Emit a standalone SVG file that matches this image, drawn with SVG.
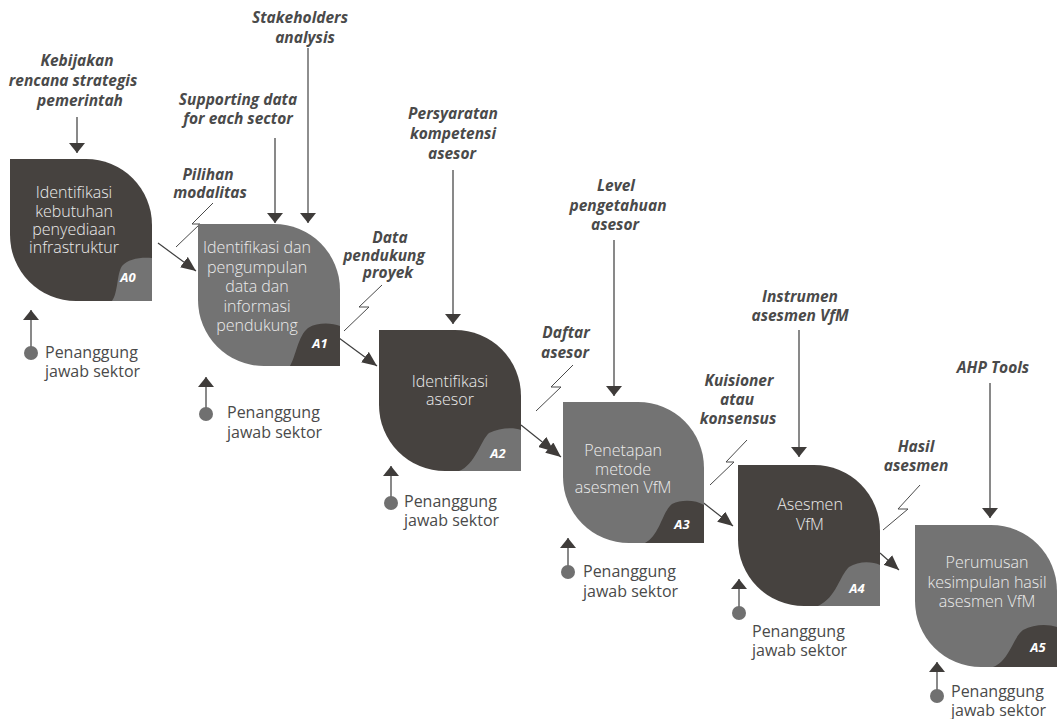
<svg xmlns="http://www.w3.org/2000/svg" width="1057" height="719" viewBox="0 0 1057 719">
<style>
.dark{fill:#46423f}
.gray{fill:#737373}
.nt{font-family:"Open Sans","Liberation Sans",sans-serif;font-weight:300;font-size:16px;fill:#ececec;text-anchor:middle}
.id{font-family:"Open Sans","Liberation Sans",sans-serif;font-weight:700;font-style:italic;font-size:13px;fill:#ffffff;text-anchor:middle}
.lb{font-family:"Open Sans","Liberation Sans",sans-serif;font-weight:700;font-style:italic;font-size:15.5px;fill:#4a4a4a;text-anchor:middle}
.mt{font-family:"Open Sans","Liberation Sans",sans-serif;font-size:16px;fill:#4a4a4a}
.ctl{stroke:#4a4a4a;stroke-width:1.3;fill:none}
.ctl2{stroke:#8e8e8e;stroke-width:2;fill:none}
.conn{stroke:#3f3f3f;stroke-width:1.2;fill:none}
.zig{stroke:#4a4a4a;stroke-width:1;fill:none}
.head{fill:#3f3c3a}
.dot{fill:#707070}
</style>
<defs>
<marker id="ah" markerUnits="userSpaceOnUse" viewBox="0 0 15 13" refX="15" refY="6.5" markerWidth="15" markerHeight="13" orient="auto">
<path d="M0,0 L15,6.5 L0,13 Z" class="head"/>
</marker>
<marker id="ah2" markerUnits="userSpaceOnUse" viewBox="-9 0 24 13" refX="15" refY="6.5" markerWidth="24" markerHeight="13" orient="auto">
<path d="M-9,0 L6,6.5 L-9,13 Z M0,0 L15,6.5 L0,13 Z" class="head"/>
</marker>
<marker id="dn" markerUnits="userSpaceOnUse" viewBox="0 0 10 16" refX="10" refY="8" markerWidth="10" markerHeight="16" orient="auto">
<path d="M0,0 L10,8 L0,16 Z" class="head"/>
</marker>
</defs>

<g id="connectors">
<!-- control arrows -->
<line x1="77" y1="117" x2="77" y2="153" class="ctl" marker-end="url(#dn)"/>
<line x1="275" y1="138" x2="275" y2="223" class="ctl" marker-end="url(#dn)"/>
<line x1="308" y1="48" x2="308" y2="223" class="ctl2" marker-end="url(#dn)"/>
<line x1="453" y1="170" x2="453" y2="324" class="ctl" marker-end="url(#dn)"/>
<line x1="614" y1="240" x2="614" y2="396" class="ctl" marker-end="url(#dn)"/>
<line x1="799" y1="330" x2="799" y2="457" class="ctl" marker-end="url(#dn)"/>
<line x1="990" y1="383" x2="990" y2="518" class="ctl" marker-end="url(#dn)"/>
<!-- flow arrows -->
<line x1="158" y1="243" x2="196" y2="271" class="conn" marker-end="url(#ah)"/>
<line x1="339" y1="338" x2="377" y2="366" class="conn" marker-end="url(#ah)"/>
<line x1="521" y1="425" x2="561" y2="457" class="conn" marker-end="url(#ah2)"/>
<line x1="696" y1="497" x2="733" y2="526" class="conn" marker-end="url(#ah)"/>
<line x1="880" y1="553" x2="899" y2="570" class="conn" marker-end="url(#ah)"/>
<!-- lightning -->
<polyline points="176,247 200,224 192,224 213,203" class="zig"/>
<polyline points="344,331 369,307 359,307 382,285" class="zig"/>
<polyline points="536,411 561,387 551,387 573,365" class="zig"/>
<polyline points="710,485 734,462 726,462 747,440" class="zig"/>
<polyline points="883,530 908,509 898,509 920,485" class="zig"/>
<!-- mechanism arrows -->
<line x1="31" y1="353" x2="31" y2="310" class="ctl" marker-end="url(#dn)"/>
<line x1="206" y1="414" x2="206" y2="377" class="ctl" marker-end="url(#dn)"/>
<line x1="391" y1="503" x2="391" y2="466" class="ctl" marker-end="url(#dn)"/>
<line x1="568" y1="572" x2="568" y2="538" class="ctl" marker-end="url(#dn)"/>
<line x1="739" y1="613" x2="739" y2="579" class="ctl" marker-end="url(#dn)"/>
<line x1="937" y1="696" x2="937" y2="662" class="ctl" marker-end="url(#dn)"/>
</g>

<g id="mechanisms">
<circle cx="31" cy="353" r="7" class="dot"/>
<text class="mt"><tspan x="45" y="358">Penanggung</tspan><tspan x="45" y="377">jawab sektor</tspan></text>
<circle cx="206" cy="414" r="7" class="dot"/>
<text class="mt"><tspan x="227" y="418">Penanggung</tspan><tspan x="227" y="438">jawab sektor</tspan></text>
<circle cx="391" cy="503" r="7" class="dot"/>
<text class="mt"><tspan x="404" y="507">Penanggung</tspan><tspan x="404" y="526">jawab sektor</tspan></text>
<circle cx="568" cy="572" r="7" class="dot"/>
<text class="mt"><tspan x="583" y="577">Penanggung</tspan><tspan x="583" y="597">jawab sektor</tspan></text>
<circle cx="739" cy="613" r="7" class="dot"/>
<text class="mt"><tspan x="752" y="637">Penanggung</tspan><tspan x="752" y="656">jawab sektor</tspan></text>
<circle cx="937" cy="696" r="7" class="dot"/>
<text class="mt"><tspan x="951" y="697">Penanggung</tspan><tspan x="951" y="716">jawab sektor</tspan></text>
</g>

<g id="labels">
<text class="lb"><tspan x="300" y="23">Stakeholders</tspan><tspan x="305" y="43">analysis</tspan></text>
<text class="lb"><tspan x="77" y="66">Kebijakan</tspan><tspan x="73" y="86">rencana strategis</tspan><tspan x="80" y="106">pemerintah</tspan></text>
<text class="lb"><tspan x="238" y="105">Supporting data</tspan><tspan x="238" y="124">for each sector</tspan></text>
<text class="lb"><tspan x="208" y="180">Pilihan</tspan><tspan x="210" y="198">modalitas</tspan></text>
<text class="lb"><tspan x="453" y="119">Persyaratan</tspan><tspan x="453" y="139">kompetensi</tspan><tspan x="452" y="159">asesor</tspan></text>
<text class="lb"><tspan x="390" y="243">Data</tspan><tspan x="384" y="261">pendukung</tspan><tspan x="388" y="278">proyek</tspan></text>
<text class="lb"><tspan x="616" y="191">Level</tspan><tspan x="618" y="211">pengetahuan</tspan><tspan x="615" y="230">asesor</tspan></text>
<text class="lb"><tspan x="566" y="338">Daftar</tspan><tspan x="565" y="358">asesor</tspan></text>
<text class="lb"><tspan x="800" y="302">Instrumen</tspan><tspan x="800" y="321">asesmen VfM</tspan></text>
<text class="lb"><tspan x="739" y="386">Kuisioner</tspan><tspan x="737" y="405">atau</tspan><tspan x="738" y="424">konsensus</tspan></text>
<text class="lb"><tspan x="916" y="452">Hasil</tspan><tspan x="916" y="471">asesmen</tspan></text>
<text class="lb"><tspan x="993" y="373">AHP Tools</tspan></text>
</g>

<g id="A0">
<path class="dark" d="M10,159 H86 A66,66 0 0 1 152,225 V301 H76 A66,66 0 0 1 10,235 Z"/>
<path class="gray" d="M152,258 C140,257 128,259 122,266 C117,273 118,293 112,301 H152 Z"/>
<text class="nt"><tspan x="74" y="198">Identifikasi</tspan><tspan x="74" y="217">kebutuhan</tspan><tspan x="74" y="235">penyediaan</tspan><tspan x="74" y="253">infrastruktur</tspan></text>
<text class="id" x="128" y="282">A0</text>
</g>

<g id="A1">
<path class="gray" d="M198,224 H274 A66,66 0 0 1 340,290 V366 H264 A66,66 0 0 1 198,300 Z"/>
<path class="dark" d="M340,326 C332,323 318,322 308,328 C298,336 296,356 290,366 H340 Z"/>
<text class="nt"><tspan x="257" y="253">Identifikasi dan</tspan><tspan x="257" y="273">pengumpulan</tspan><tspan x="257" y="292">data dan</tspan><tspan x="257" y="312">informasi</tspan><tspan x="257" y="331">pendukung</tspan></text>
<text class="id" x="320" y="348">A1</text>
</g>

<g id="A2">
<path class="dark" d="M379,330 H455 A66,66 0 0 1 521,396 V471 H445 A66,66 0 0 1 379,405 Z"/>
<path class="gray" d="M521,430 C513,427 499,428 489,433 C481,440 475,465 459,471 H521 Z"/>
<text class="nt"><tspan x="450" y="387">Identifikasi</tspan><tspan x="450" y="405">asesor</tspan></text>
<text class="id" x="498" y="458">A2</text>
</g>

<g id="A3">
<path class="gray" d="M563,402 H638 A66,66 0 0 1 704,468 V543 H629 A66,66 0 0 1 563,477 Z"/>
<path class="dark" d="M704,505 C696,500 682,499 672,504 C662,512 660,535 645,543 H704 Z"/>
<text class="nt"><tspan x="623" y="456">Penetapan</tspan><tspan x="623" y="475">metode</tspan><tspan x="623" y="493">asesmen VfM</tspan></text>
<text class="id" x="682" y="529">A3</text>
</g>

<g id="A4">
<path class="dark" d="M738,465 H814 A66,66 0 0 1 880,531 V606 H804 A66,66 0 0 1 738,540 Z"/>
<path class="gray" d="M880,565 C872,561 858,561 849,567 C840,575 836,598 818,606 H880 Z"/>
<text class="nt"><tspan x="810" y="510">Asesmen</tspan><tspan x="810" y="530">VfM</tspan></text>
<text class="id" x="857" y="593">A4</text>
</g>

<g id="A5">
<path class="gray" d="M915,525 H991 A66,66 0 0 1 1057,591 V667 H981 A66,66 0 0 1 915,601 Z"/>
<path class="dark" d="M1057,627 C1048,624 1034,624 1023,630 C1013,637 1010,660 993,667 H1057 Z"/>
<text class="nt"><tspan x="987" y="568">Perumusan</tspan><tspan x="987" y="588">kesimpulan hasil</tspan><tspan x="987" y="607">asesmen VfM</tspan></text>
<text class="id" x="1038" y="652">A5</text>
</g>
</svg>
